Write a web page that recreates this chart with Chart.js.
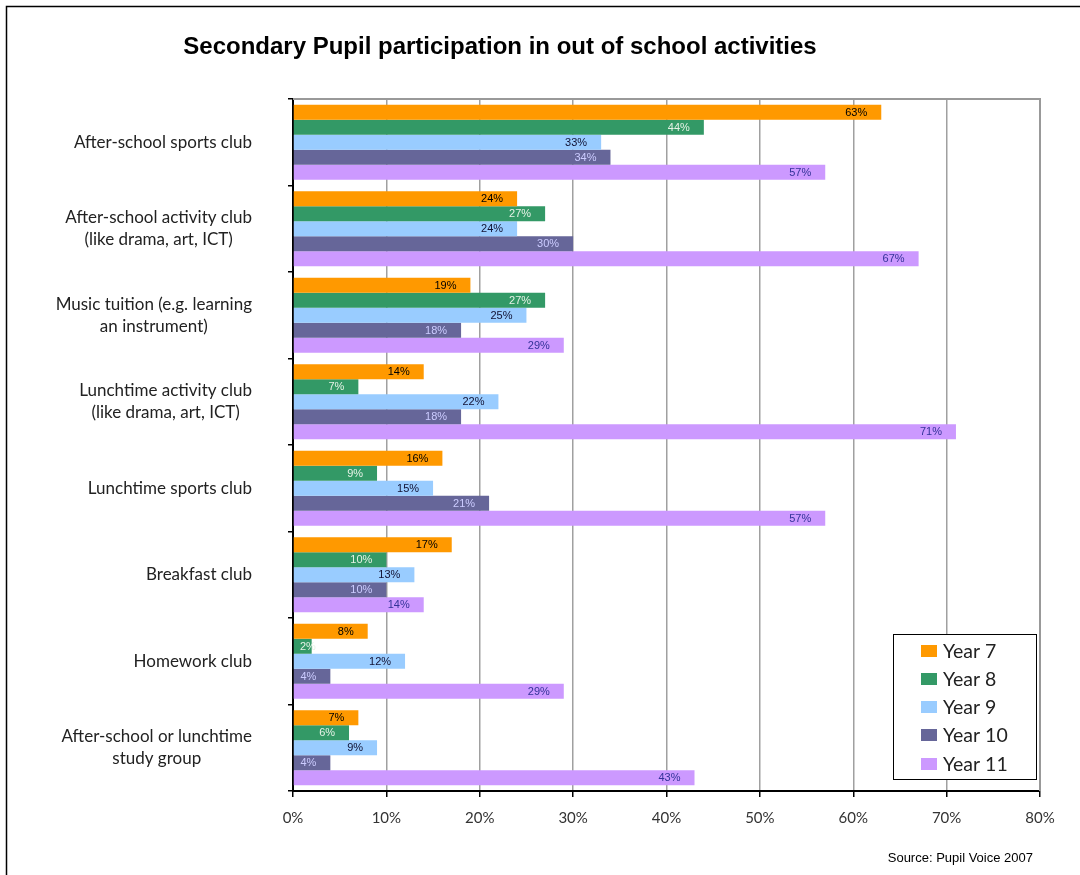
<!DOCTYPE html>
<html>
<head>
<meta charset="utf-8">
<title>Secondary Pupil participation in out of school activities</title>
<script src="https://cdn.jsdelivr.net/npm/chart.js@4/dist/chart.umd.min.js"></script>
<style>
  body { margin: 0; background: #fff; }
  #wrap { width: 1080px; height: 875px; position: relative; }
</style>
</head>
<body>
<div id="wrap"><canvas id="myChart" width="1080" height="875"></canvas></div>
<script>
// activities, top to bottom
const activities = [
  ['After-school sports club'],
  ['After-school activity club', '(like drama, art, ICT)'],
  ['Music tuition (e.g. learning', 'an instrument)'],
  ['Lunchtime activity club', '(like drama, art, ICT)'],
  ['Lunchtime sports club'],
  ['Breakfast club'],
  ['Homework club'],
  ['After-school or lunchtime', 'study group']
];

const yearNames = ['Year 7', 'Year 8', 'Year 9', 'Year 10', 'Year 11'];

// % of pupils taking part
const year7 = [63, 24, 19, 14, 16, 17, 8, 7];
const year8 = [44, 27, 27, 7, 9, 10, 2, 6];
const year9 = [33, 24, 25, 22, 15, 13, 12, 9];
const year10 = [34, 30, 18, 18, 21, 10, 4, 4];
const year11 = [57, 67, 29, 71, 57, 14, 29, 43];

const axisTicks = [0, 10, 20, 30, 40, 50, 60, 70, 80];

const barColors = ['#FF9900', '#339966', '#99CCFF', '#666699', '#CC99FF'];
const labelColors = ['#000000', '#E6F2E6', '#111133', '#CCCCFF', '#333399'];

const gothic = 'Lato, "DejaVu Sans", sans-serif';
const arial = '"Liberation Sans", Arial, sans-serif';

// outer frame, title, plot border, source note
const frame = {
  id: 'frame',
  beforeDraw(chart) {
    const c = chart.ctx;
    c.save();
    c.fillStyle = '#fff';
    c.fillRect(0, 0, chart.width, chart.height);
    c.strokeStyle = '#000';
    c.lineWidth = 1.5;
    c.beginPath();
    c.moveTo(6.5, chart.height);
    c.lineTo(6.5, 6.5);
    c.lineTo(chart.width, 6.5);
    c.stroke();
    c.restore();
  },
  afterDraw(chart) {
    const c = chart.ctx;
    const a = chart.chartArea;
    c.save();
    c.strokeStyle = '#999';
    c.lineWidth = 2;
    c.beginPath();
    c.moveTo(a.left, a.top);
    c.lineTo(a.right, a.top);
    c.lineTo(a.right, a.bottom);
    c.stroke();

    c.fillStyle = '#000';
    c.font = 'bold 24px ' + arial;
    c.textAlign = 'center';
    c.textBaseline = 'middle';
    c.fillText('Secondary Pupil participation in out of school activities', 500, 47);

    c.font = '13px ' + arial;
    c.textAlign = 'right';
    c.fillText('Source: Pupil Voice 2007', 1033, 858);
    c.restore();
  }
};

// wrapped category names, lines centred on each other
const categoryNames = {
  id: 'categoryNames',
  afterDraw(chart) {
    const c = chart.ctx;
    const y = chart.scales.y;
    c.save();
    c.font = '17px ' + gothic;
    c.fillStyle = '#222';
    c.textAlign = 'center';
    c.textBaseline = 'middle';
    const lh = 22;
    chart.data.labels.forEach((lines, i) => {
      const mid = y.getPixelForValue(i);
      const w = Math.max(...lines.map(l => c.measureText(l).width));
      const cx = 252 - w / 2;
      lines.forEach((l, k) => {
        c.fillText(l, cx, mid + (k - (lines.length - 1) / 2) * lh);
      });
    });
    c.restore();
  }
};

// value labels just inside the end of each bar
const barValues = {
  id: 'barValues',
  afterDatasetsDraw(chart) {
    const c = chart.ctx;
    const left = chart.chartArea.left;
    c.save();
    c.font = '11px ' + arial;
    c.textAlign = 'right';
    c.textBaseline = 'middle';
    chart.data.datasets.forEach((ds, d) => {
      c.fillStyle = labelColors[d];
      chart.getDatasetMeta(d).data.forEach((bar, i) => {
        const txt = ds.data[i] + '%';
        const w = c.measureText(txt).width;
        let right = bar.x - 14;
        if (right - w < left + 7) right = left + 7 + w;
        c.fillText(txt, right, bar.y + 0.5);
      });
    });
    c.restore();
  }
};

// boxed legend in the lower right of the plot
const boxLegend = {
  id: 'boxLegend',
  afterDraw(chart) {
    const c = chart.ctx;
    c.save();
    c.fillStyle = '#fff';
    c.fillRect(893, 634, 143, 145);
    c.strokeStyle = '#000';
    c.lineWidth = 1;
    c.strokeRect(893.5, 634.5, 143, 145);
    c.font = '19.5px ' + gothic;
    c.textBaseline = 'middle';
    c.textAlign = 'left';
    const rows = [651, 679, 707, 735, 764];
    chart.data.datasets.forEach((ds, d) => {
      c.fillStyle = ds.backgroundColor;
      c.fillRect(921, rows[d] - 6, 16, 12);
      c.fillStyle = '#222';
      c.fillText(ds.label, 943, rows[d] + 1);
    });
    c.restore();
  }
};

const series = [year7, year8, year9, year10, year11];

new Chart(document.getElementById('myChart'), {
  type: 'bar',
  data: {
    labels: activities,
    datasets: series.map((vals, d) => ({
      label: yearNames[d],
      data: vals,
      backgroundColor: barColors[d],
      borderWidth: 0,
      categoryPercentage: 0.867,
      barPercentage: 1.0
    }))
  },
  options: {
    indexAxis: 'y',
    responsive: false,
    animation: false,
    layout: {
      padding: { top: 99, right: 40, bottom: 0, left: 0 }
    },
    scales: {
      x: {
        min: 0,
        max: 80,
        afterFit(s) { s.height = 84; },
        afterBuildTicks(s) { s.ticks = axisTicks.map(v => ({ value: v })); },
        grid: {
          color: '#A0A0A0',
          lineWidth: 1.5,
          tickColor: '#000',
          tickLength: 6
        },
        border: { color: '#000', width: 2 },
        ticks: {
          padding: 12,
          color: '#333',
          font: { family: gothic, size: 15 },
          callback: v => v + '%'
        }
      },
      y: {
        afterFit(s) { s.width = 293; },
        grid: {
          drawOnChartArea: false,
          drawTicks: true,
          tickLength: 5,
          tickColor: '#000',
          lineWidth: 1.5
        },
        border: { color: '#000', width: 2 },
        ticks: { display: false }
      }
    },
    plugins: {
      legend: { display: false },
      title: { display: false },
      tooltip: { enabled: false }
    }
  },
  plugins: [frame, categoryNames, barValues, boxLegend]
});
</script>
</body>
</html>
